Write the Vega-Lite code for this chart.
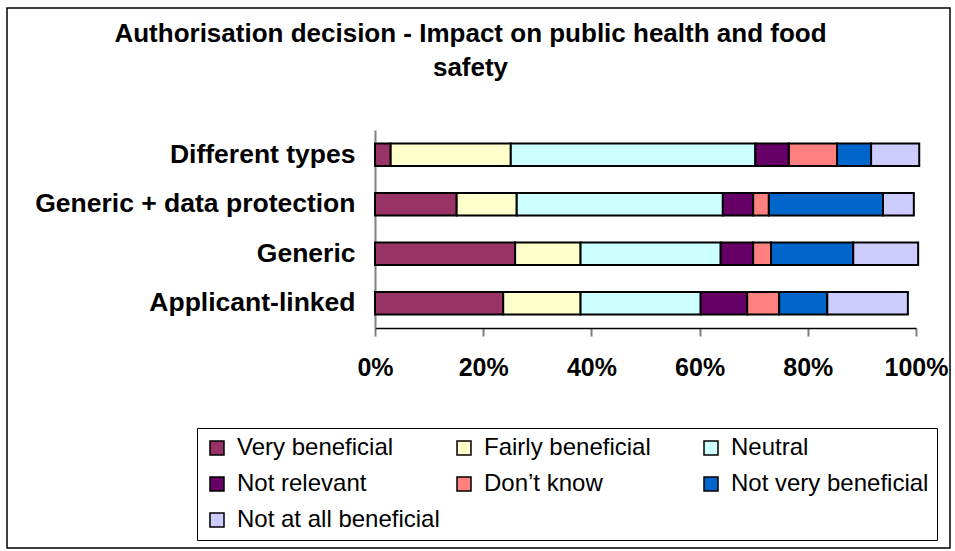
{
  "$schema": "https://vega.github.io/schema/vega-lite/v6.json",
  "width": 943,
  "height": 540,
  "autosize": {"type": "none"},
  "padding": {"left": 7, "top": 8, "right": 5, "bottom": 3},
  "background": "#ffffff",
  "config": {
    "view": {"stroke": "#000000", "strokeWidth": 1.5},
    "font": "Liberation Sans"
  },
  "title": {
    "text": ["Authorisation decision - Impact on public health and food", "safety"],
    "font": "Liberation Sans",
    "fontSize": 26,
    "fontWeight": "bold",
    "color": "#000000",
    "anchor": "middle",
    "frame": "group",
    "offset": -73,
    "lineHeight": 34,
    "dx": -8
  },
  "data": {
    "values": [
      {"group": "Different types", "response": "Very beneficial", "rank": 1, "pct": 2.9},
      {"group": "Different types", "response": "Fairly beneficial", "rank": 2, "pct": 22.2},
      {"group": "Different types", "response": "Neutral", "rank": 3, "pct": 45.2},
      {"group": "Different types", "response": "Not relevant", "rank": 4, "pct": 6.2},
      {"group": "Different types", "response": "Don’t know", "rank": 5, "pct": 8.9},
      {"group": "Different types", "response": "Not very beneficial", "rank": 6, "pct": 6.3},
      {"group": "Different types", "response": "Not at all beneficial", "rank": 7, "pct": 8.9},
      {"group": "Generic + data protection", "response": "Very beneficial", "rank": 1, "pct": 15.1},
      {"group": "Generic + data protection", "response": "Fairly beneficial", "rank": 2, "pct": 11.1},
      {"group": "Generic + data protection", "response": "Neutral", "rank": 3, "pct": 38.1},
      {"group": "Generic + data protection", "response": "Not relevant", "rank": 4, "pct": 5.6},
      {"group": "Generic + data protection", "response": "Don’t know", "rank": 5, "pct": 2.9},
      {"group": "Generic + data protection", "response": "Not very beneficial", "rank": 6, "pct": 21.1},
      {"group": "Generic + data protection", "response": "Not at all beneficial", "rank": 7, "pct": 5.7},
      {"group": "Generic", "response": "Very beneficial", "rank": 1, "pct": 25.9},
      {"group": "Generic", "response": "Fairly beneficial", "rank": 2, "pct": 12.1},
      {"group": "Generic", "response": "Neutral", "rank": 3, "pct": 25.9},
      {"group": "Generic", "response": "Not relevant", "rank": 4, "pct": 6.0},
      {"group": "Generic", "response": "Don’t know", "rank": 5, "pct": 3.3},
      {"group": "Generic", "response": "Not very beneficial", "rank": 6, "pct": 15.2},
      {"group": "Generic", "response": "Not at all beneficial", "rank": 7, "pct": 12.0},
      {"group": "Applicant-linked", "response": "Very beneficial", "rank": 1, "pct": 23.7},
      {"group": "Applicant-linked", "response": "Fairly beneficial", "rank": 2, "pct": 14.3},
      {"group": "Applicant-linked", "response": "Neutral", "rank": 3, "pct": 22.2},
      {"group": "Applicant-linked", "response": "Not relevant", "rank": 4, "pct": 8.6},
      {"group": "Applicant-linked", "response": "Don’t know", "rank": 5, "pct": 5.9},
      {"group": "Applicant-linked", "response": "Not very beneficial", "rank": 6, "pct": 8.9},
      {"group": "Applicant-linked", "response": "Not at all beneficial", "rank": 7, "pct": 14.9}
    ]
  },
  "mark": {"type": "bar", "stroke": "#000000", "strokeWidth": 2},
  "encoding": {
    "y": {
      "field": "group",
      "type": "nominal",
      "sort": ["Different types", "Generic + data protection", "Generic", "Applicant-linked"],
      "scale": {"range": [122, 320], "paddingInner": 0.55, "paddingOuter": 0.275},
      "axis": {
        "title": null,
        "offset": -368,
        "ticks": false,
        "tickSize": 0,
        "labelPadding": 20,
        "labelFont": "Liberation Sans",
        "labelFontSize": 26.5,
        "labelFontWeight": "bold",
        "labelColor": "#000000",
        "labelLimit": 500,
        "domainColor": "#808080",
        "domainWidth": 2,
        "grid": false
      }
    },
    "x": {
      "field": "pct",
      "type": "quantitative",
      "stack": "zero",
      "scale": {"domain": [0, 100], "range": [368, 909], "nice": false},
      "axis": {
        "title": null,
        "offset": -220,
        "values": [0, 20, 40, 60, 80, 100],
        "labelExpr": "datum.value + '%'",
        "grid": false,
        "tickSize": 8,
        "tickColor": "#808080",
        "tickWidth": 2,
        "domainColor": "#000000",
        "domainWidth": 1.5,
        "labelPadding": 19,
        "labelFont": "Liberation Sans",
        "labelFontSize": 25,
        "labelFontWeight": "bold",
        "labelColor": "#000000",
        "labelFlush": false,
        "labelOverlap": false
      }
    },
    "order": {"field": "rank", "type": "quantitative", "sort": "ascending"},
    "color": {
      "field": "response",
      "type": "nominal",
      "sort": ["Very beneficial", "Fairly beneficial", "Neutral", "Not relevant", "Don’t know", "Not very beneficial", "Not at all beneficial"],
      "scale": {
        "domain": ["Very beneficial", "Fairly beneficial", "Neutral", "Not relevant", "Don’t know", "Not very beneficial", "Not at all beneficial"],
        "range": ["#993366", "#FFFFCC", "#CCFFFF", "#660066", "#FF8080", "#0066CC", "#CCCCFF"]
      },
      "legend": {
        "title": null,
        "orient": "none",
        "legendX": 190,
        "legendY": 420,
        "direction": "horizontal",
        "columns": 3,
        "gridAlign": "all",
        "strokeColor": "#000000",
        "padding": 8,
        "rowPadding": 12,
        "columnPadding": 12,
        "symbolType": "square",
        "symbolSize": 196,
        "symbolStrokeColor": "#000000",
        "symbolStrokeWidth": 1.5,
        "symbolOpacity": 1,
        "labelFont": "Liberation Sans",
        "labelFontSize": 24,
        "labelColor": "#000000",
        "labelOffset": 8,
        "labelLimit": 500
      }
    }
  }
}
